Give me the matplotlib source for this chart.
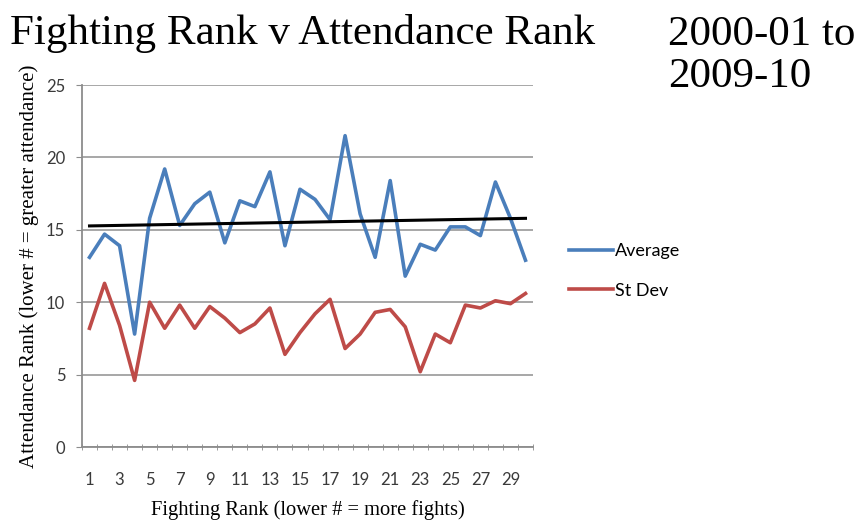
import matplotlib.pyplot as plt
import numpy as np

# Fighting rank categories
ranks = list(range(1, 31))

# Attendance rank per fighting rank
average = [13.1, 14.7, 13.9, 7.8, 15.8, 19.2, 15.3, 16.8, 17.6, 14.1,
           17.0, 16.6, 19.0, 13.9, 17.8, 17.1, 15.7, 21.5, 16.1, 13.1,
           18.4, 11.8, 14.0, 13.6, 15.2, 15.2, 14.6, 18.3, 15.8, 12.9]
st_dev = [8.2, 11.3, 8.4, 4.6, 10.0, 8.2, 9.8, 8.2, 9.7, 8.9,
          7.9, 8.5, 9.6, 6.4, 7.9, 9.2, 10.2, 6.8, 7.8, 9.3,
          9.5, 8.3, 5.2, 7.8, 7.2, 9.8, 9.6, 10.1, 9.9, 10.6]

blue = '#4A7EBB'
red = '#BE4B48'
grey = '#8C8C8C'
serif = 'Liberation Serif'
sans = 'Lato'

fig = plt.figure(figsize=(8.67, 5.23), dpi=100)
ax = fig.add_axes([82/867, 1 - 447/523, 451/867, 362/523])

ax.plot(ranks, average, color=blue, lw=2.6, label='Average')
ax.plot(ranks, st_dev, color=red, lw=2.6, label='St Dev')

# linear trend of the average
k, b = np.polyfit(ranks, average, 1)
x = np.array([ranks[0], ranks[-1]])
ax.plot(x, k * x + b, color='black', lw=2.2)

ax.set_xlim(0.5, 30.5)
ax.set_ylim(0, 25)
ax.set_yticks(range(0, 26, 5))
ax.set_xticks(ranks[::2])
ax.set_xticks(np.arange(0.5, 31, 1), minor=True)
ax.tick_params(axis='x', which='major', length=0, pad=18, labelsize=12, labelcolor='#3A3A3A')
ax.tick_params(axis='x', which='minor', length=5, direction='inout', color=grey)
ax.tick_params(axis='y', length=4, direction='out', color=grey, labelsize=12,
               labelcolor='#3A3A3A', pad=8)
for lab in ax.get_xticklabels() + ax.get_yticklabels():
    lab.set_family(sans)
ax.grid(axis='y', color='#A0A0A0', lw=1.3)
for s in ['top', 'right']:
    ax.spines[s].set_visible(False)
for s in ['left', 'bottom']:
    ax.spines[s].set_color(grey)
    ax.spines[s].set_linewidth(1.3)

ax.set_xlabel('Fighting Rank (lower # = more fights)', family=serif, fontsize=14.8, labelpad=9)
ax.set_ylabel('Attendance Rank (lower # = greater attendance)', family=serif, fontsize=15,
              labelpad=5)

fig.text(10/867, 1 - 44/523, 'Fighting Rank v Attendance Rank', family=serif,
         fontsize=31, va='baseline', ha='left')
fig.text(668/867, 1 - 45/523, '2000-01 to', family=serif,
         fontsize=31, va='baseline', ha='left')
fig.text(668/867, 1 - 87/523, '2009-10', family=serif,
         fontsize=31, va='baseline', ha='left')

leg = fig.legend(loc='center left', bbox_to_anchor=(553/867, 1 - 271/523), frameon=False,
                 prop={'family': sans, 'size': 13}, handlelength=2.4, handletextpad=0.15,
                 labelspacing=1.3)

fig.savefig('out.png', dpi=100)
